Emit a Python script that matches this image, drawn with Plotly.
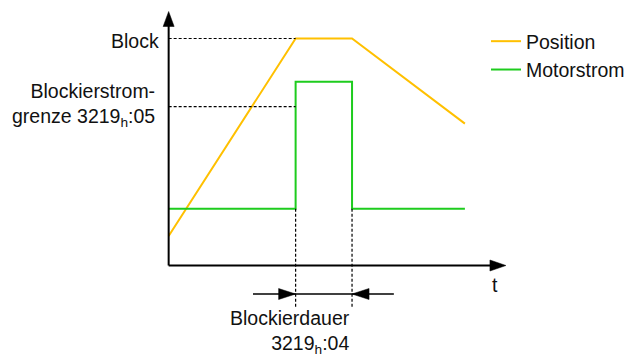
import plotly.graph_objects as go

# Schematic: blocking detection (Blockiererkennung)
t_position = [0, 4.5, 6.5, 10.5]
position = [1.3, 10.0, 10.0, 6.25]

t_current = [0, 4.5, 4.5, 6.5, 6.5, 10.5]
current = [2.5, 2.5, 8.1, 8.1, 2.5, 2.5]

block_level = 10.0
current_limit = 7.0
block_start, block_end = 4.5, 6.5

series_names = ["Position", "Motorstrom"]
series_colors = ["#FFC000", "#1ECC1E"]

# pixel scale of the sketch
PX_T = 28.44
PX_V = 22.7
ORIGIN_X, ORIGIN_Y = 168, 264
SHIFT_X, SHIFT_Y = 2.0, 1.5
W, H = 630, 356
FONT = "Arial, Liberation Sans, sans-serif"
FONT_SIZE = 19.5


def px_to_t(px):
    return (px - ORIGIN_X) / PX_T


def px_to_v(py):
    return (ORIGIN_Y - py) / PX_V


t_axis_end = px_to_t(508)
v_axis_end = px_to_v(10)
dim_y = px_to_v(292.5)
dim_left, dim_right = px_to_t(253), px_to_t(395)
dotted_bottom = px_to_v(307)

fig = go.Figure()
for name, xs, ys, color in zip(series_names, [t_position, t_current],
                                [position, current], series_colors):
    fig.add_trace(go.Scatter(
        x=xs, y=ys, mode="lines", name=name,
        line=dict(color=color, width=2),
    ))

black_dash = dict(color="black", width=1.2, dash="3px,2px")
shapes = [
    # axes
    dict(type="line", x0=0, y0=0, x1=t_axis_end - 0.3, y1=0,
         line=dict(color="black", width=2)),
    dict(type="line", x0=0, y0=0, x1=0, y1=v_axis_end - 0.4,
         line=dict(color="black", width=2)),
    # helper lines
    dict(type="line", x0=0, y0=block_level, x1=block_start, y1=block_level, line=black_dash),
    dict(type="line", x0=0, y0=current_limit, x1=block_start, y1=current_limit, line=black_dash),
    dict(type="line", x0=block_start, y0=current[0], x1=block_start, y1=dotted_bottom, line=black_dash),
    dict(type="line", x0=block_end, y0=current[0], x1=block_end, y1=dotted_bottom, line=black_dash),
    # dimension line
    dict(type="line", x0=dim_left, y0=dim_y, x1=dim_right, y1=dim_y,
         line=dict(color="black", width=1.5)),
]


def arrow_head(x, y, path):
    return dict(type="path", xsizemode="pixel", ysizemode="pixel",
                xanchor=x, yanchor=y, path=path,
                fillcolor="black", line=dict(color="black", width=0.5))


shapes += [
    arrow_head(t_axis_end, 0, "M0,0 L-16,5.5 L-16,-5.5 Z"),
    arrow_head(0, v_axis_end, "M0,0 L-5.5,-15 L5.5,-15 Z"),
    arrow_head(block_start, dim_y, "M0,0 L-17,5.5 L-17,-5.5 Z"),
    arrow_head(block_end, dim_y, "M0,0 L17,5.5 L17,-5.5 Z"),
]

annotations = [
    dict(x=px_to_t(160), y=px_to_v(39), text="Block", xanchor="right", yanchor="middle"),
    dict(x=px_to_t(156), y=px_to_v(103),
         text="Blockierstrom-<br>grenze 3219<sub>h</sub>:05",
         xanchor="right", yanchor="middle", align="right"),
    dict(x=block_end, y=px_to_v(330),
         text="Blockierdauer<br>3219<sub>h</sub>:04",
         xanchor="right", yanchor="middle", align="right"),
    dict(x=px_to_t(497), y=px_to_v(283), text="t", xanchor="center", yanchor="middle"),
]
for a in annotations:
    a.update(xref="x", yref="y", showarrow=False, font=dict(size=FONT_SIZE, color="#111111"))

fig.update_layout(
    width=W, height=H,
    margin=dict(l=0, r=0, t=0, b=0),
    paper_bgcolor="white", plot_bgcolor="white",
    font=dict(family=FONT, size=FONT_SIZE, color="#111111"),
    xaxis=dict(range=[px_to_t(-SHIFT_X), px_to_t(W - SHIFT_X)], visible=False, fixedrange=True),
    yaxis=dict(range=[px_to_v(H - SHIFT_Y), px_to_v(-SHIFT_Y)], visible=False, fixedrange=True),
    showlegend=True,
    legend=dict(x=490 / W, y=1 - 22 / H, xanchor="left", yanchor="top",
                bgcolor="rgba(0,0,0,0)", font=dict(size=FONT_SIZE), tracegroupgap=0),
    shapes=shapes,
    annotations=annotations,
)

# drop the default page margin so the figure sits at the window corner
fig.write_html(
    "out.html",
    config={"displayModeBar": False},
    post_script="document.body.style.margin='0';document.body.style.overflow='hidden';",
)
